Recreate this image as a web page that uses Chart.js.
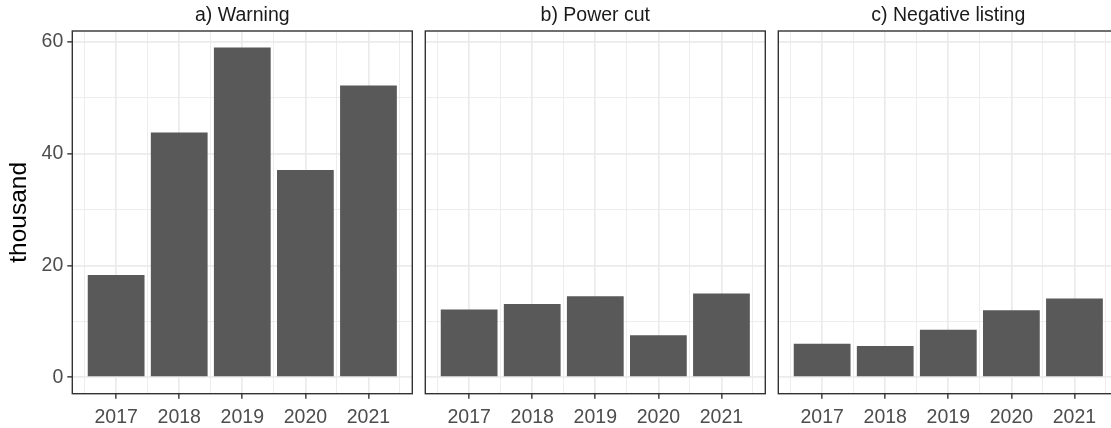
<!DOCTYPE html>
<html>
<head>
<meta charset="utf-8">
<script src="https://cdn.jsdelivr.net/npm/chart.js@4.4.1/dist/chart.umd.min.js"></script>
<style>
  html, body { margin: 0; padding: 0; background: #ffffff; }
  body { width: 1111px; height: 428px; overflow: hidden; position: relative; }
  canvas { position: absolute; top: 0; }
</style>
</head>
<body>
<canvas id="chartA" width="420" height="428" style="left:0px"></canvas>
<canvas id="chartB" width="353" height="428" style="left:420px"></canvas>
<canvas id="chartC" width="353" height="428" style="left:773px"></canvas>
<script>
// values in thousand
var years = [2017, 2018, 2019, 2020, 2021];
var warning = [18.3, 43.8, 59.0, 37.1, 52.2];
var powerCut = [12.1, 13.1, 14.5, 7.5, 15.0];
var negativeListing = [6.0, 5.6, 8.5, 12.0, 14.1];
var panelTitles = ["a) Warning", "b) Power cut", "c) Negative listing"];
var yLabel = "thousand";

var FONT = "'Liberation Sans', Arial, sans-serif";
var GRID = "#ebebeb";

// panel border + strip title
var panelPlugin = {
    id: "panel",
    afterDatasetsDraw(chart, args, opts){
        var a = chart.chartArea;
        var ctx = chart.ctx;
        ctx.save();
        ctx.strokeStyle = "#333333";
        ctx.lineWidth = 1.4;
        ctx.strokeRect(a.left, a.top, a.right - a.left, a.bottom - a.top);
        ctx.fillStyle = "#1a1a1a";
        ctx.font = "19.5px " + FONT;
        ctx.textAlign = "center";
        ctx.textBaseline = "alphabetic";
        ctx.fillText(opts.text, (a.left + a.right) / 2, 20.5);
        ctx.restore();
    }
};

function isMajorX(v){ return Math.abs(v - Math.round(v)) < 1e-6; }
function isMajorY(v){ return Math.abs(v % 20) < 1e-6; }

function makePanel(id, values, title, showY, yWidth, padRight){
    var points = years.map((y, i) => ({ x: y, y: values[i] }));
    return new Chart(id, {
        type: "bar",
        data: {
            datasets: [{
                data: points,
                backgroundColor: "#595959",
                borderWidth: 0,
                // ticks every half year, so 1.8 x 0.5 = 0.9 year wide
                barPercentage: 1.8,
                categoryPercentage: 1.0
            }]
        },
        plugins: [panelPlugin],
        options: {
            responsive: false,
            animation: false,
            layout: { padding: { top: 31, right: padRight, left: 0, bottom: 0 } },
            plugins: {
                legend: { display: false },
                tooltip: { enabled: false },
                panel: { text: title }
            },
            scales: {
                x: {
                    type: "linear",
                    min: 2016.305,
                    max: 2021.695,
                    offset: false,
                    border: { display: false },
                    grid: {
                        offset: false,
                        color: GRID,
                        lineWidth: ctx => isMajorX(ctx.tick.value) ? 1.7 : 0.9,
                        drawTicks: true,
                        tickLength: 5,
                        tickWidth: 1.4,
                        tickColor: ctx => isMajorX(ctx.tick.value) ? "#333333" : "rgba(0,0,0,0)"
                    },
                    ticks: {
                        stepSize: 0.5,
                        includeBounds: false,
                        autoSkip: false,
                        maxRotation: 0,
                        padding: 7,
                        color: "#4d4d4d",
                        font: { family: FONT, size: 19.5 },
                        callback: v => isMajorX(v) ? String(Math.round(v)) : ""
                    },
                    afterFit(scale){
                        scale.height = 34.3;
                        scale.paddingLeft = 0;
                        scale.paddingRight = 0;
                    }
                },
                y: {
                    min: -2.95,
                    max: 61.95,
                    border: { display: false },
                    grid: {
                        color: GRID,
                        lineWidth: ctx => isMajorY(ctx.tick.value) ? 1.7 : 0.9,
                        drawTicks: showY,
                        tickLength: 5,
                        tickWidth: 1.4,
                        tickColor: ctx => isMajorY(ctx.tick.value) ? "#333333" : "rgba(0,0,0,0)"
                    },
                    ticks: {
                        display: showY,
                        stepSize: 10,
                        includeBounds: false,
                        padding: 4,
                        color: "#4d4d4d",
                        font: { family: FONT, size: 19.5 },
                        callback: v => isMajorY(v) ? String(v) : ""
                    },
                    title: {
                        display: showY,
                        text: yLabel,
                        color: "#000000",
                        padding: 5,
                        font: { family: FONT, size: 24.5 }
                    },
                    afterFit(scale){
                        scale.width = yWidth;
                        scale.paddingTop = 0;
                        scale.paddingBottom = 0;
                    }
                }
            }
        }
    });
}

makePanel("chartA", warning, panelTitles[0], true, 72.3, 7.7);
makePanel("chartB", powerCut, panelTitles[1], false, 5.3, 7.7);
makePanel("chartC", negativeListing, panelTitles[2], false, 5.3, 7.7);
</script>
</body>
</html>
